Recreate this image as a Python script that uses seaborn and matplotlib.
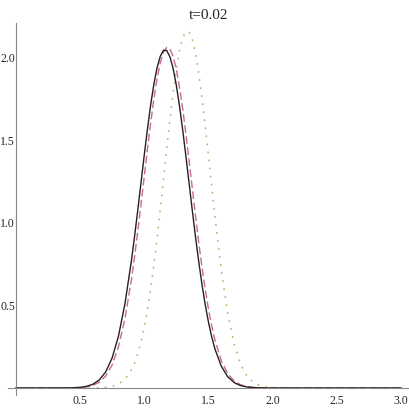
import numpy as np
import pandas as pd
import seaborn as sns
import matplotlib
matplotlib.use("Agg")
import matplotlib.pyplot as plt

# values (finer spacing around the peaks)
x_vals = [0.0, 0.40, 0.45, 0.50, 0.55, 0.60, 0.65, 0.70, 0.75, 0.80, 0.85, 0.90,
          0.925, 0.95, 0.975, 1.0, 1.025, 1.05, 1.075, 1.1, 1.125, 1.15, 1.175,
          1.2, 1.225, 1.25, 1.275, 1.3, 1.325, 1.35, 1.375, 1.4, 1.425, 1.45,
          1.475, 1.5, 1.525,
          1.55, 1.60, 1.65, 1.70, 1.75, 1.80, 1.85, 1.90, 1.95, 2.00, 2.05, 2.10,
          3.0]
solid_vals = [0, 0.0005, 0.0015, 0.0039, 0.0097, 0.0224, 0.0483, 0.0969, 0.181,
              0.315, 0.510, 0.768,
              0.918, 1.078, 1.243, 1.409, 1.567, 1.713, 1.840, 1.940, 2.010,
              2.046, 2.045, 2.008, 1.937, 1.835, 1.708, 1.561, 1.402, 1.237,
              1.072, 0.912, 0.763, 0.626, 0.505, 0.400, 0.312,
              0.238, 0.132, 0.068, 0.0327, 0.0146, 0.0061, 0.0024, 0.0009,
              0.0003, 0, 0, 0,
              0]
dashed_vals = [0, 0.0003, 0.0009, 0.0025, 0.0064, 0.0155, 0.0346, 0.0718, 0.139,
               0.251, 0.420, 0.654,
               0.795, 0.949, 1.112, 1.279, 1.446, 1.605, 1.750, 1.874, 1.970,
               2.035, 2.064, 2.055, 2.010, 1.932, 1.822, 1.689, 1.537, 1.373,
               1.205, 1.039, 0.880, 0.731, 0.597, 0.479, 0.377,
               0.292, 0.165, 0.087, 0.0427, 0.0195, 0.0083, 0.0033, 0.0012,
               0.0004, 0.0001, 0, 0,
               0]
dotted_vals = [0, 0, 0, 0, 0.0001, 0.0004, 0.0013, 0.0037, 0.0098, 0.0236,
               0.0529, 0.109,
               0.152, 0.209, 0.280, 0.368, 0.475, 0.600, 0.745, 0.905, 1.079,
               1.261, 1.445, 1.623, 1.788, 1.931, 2.045, 2.123, 2.161, 2.156,
               2.110, 2.024, 1.904, 1.756, 1.588, 1.408, 1.224,
               1.044, 0.715, 0.452, 0.264, 0.143, 0.0713, 0.0329, 0.0140,
               0.0055, 0.0020, 0.0007, 0.0002,
               0]

x_major = [0.5, 1.0, 1.5, 2.0, 2.5, 3.0]
y_major = [0.5, 1.0, 1.5, 2.0]
title = "t=0.02"

sns.set_style("white")
plt.rcParams["font.family"] = ["Liberation Serif", "DejaVu Serif"]

df = pd.DataFrame({"x": x_vals, "solid": solid_vals,
                   "dashed": dashed_vals, "dotted": dotted_vals})

fig = plt.figure(figsize=(4.09, 4.09), dpi=100)
ax = fig.add_axes([8 / 409, 0.03325, 401 / 409, 0.9097])

sns.lineplot(data=df, x="x", y="dotted", ax=ax, color="#c2a862", lw=1.1)
ax.lines[-1].set_dashes((1.1, 4.2))
sns.lineplot(data=df, x="x", y="dashed", ax=ax, color="#cc6699", lw=1.0)
ax.lines[-1].set_dashes((5.5, 2.5))
sns.lineplot(data=df, x="x", y="solid", ax=ax, color="#222222", lw=1.0)

ax.set_xlim(-0.06, 3.061)
ax.set_ylim(-0.045, 2.21)

# Mathematica style axes crossing at the origin
for side in ["top", "right"]:
    ax.spines[side].set_visible(False)
ax.spines["left"].set_position(("data", 0))
ax.spines["bottom"].set_position(("data", 0))
for side in ["left", "bottom"]:
    ax.spines[side].set_color("#888888")
    ax.spines[side].set_linewidth(0.8)

x_minor = [round(0.1 * i, 1) for i in range(1, 31) if round(0.1 * i, 1) not in x_major]
y_minor = [round(0.1 * i, 1) for i in range(1, 23) if round(0.1 * i, 1) not in y_major]
ax.set_xticks(x_major)
ax.set_xticks(x_minor, minor=True)
ax.set_yticks(y_major)
ax.set_yticks(y_minor, minor=True)
ax.set_xticklabels([f"{v:.1f}" for v in x_major])
ax.set_yticklabels([f"{v:.1f}" for v in y_major])
ax.tick_params(which="major", direction="in", length=5, width=0.6,
               color="#888888", labelsize=8.5)
ax.tick_params(which="minor", direction="in", length=3, width=0.5,
               color="#888888")
ax.tick_params(axis="x", pad=5)
ax.tick_params(axis="y", pad=0.5)

ax.set_xlabel("")
ax.set_ylabel("")
fig.text(208.5 / 409, 1 - 19 / 409, title, ha="center", va="baseline",
         fontsize=11)

fig.savefig("out.png", dpi=100)
